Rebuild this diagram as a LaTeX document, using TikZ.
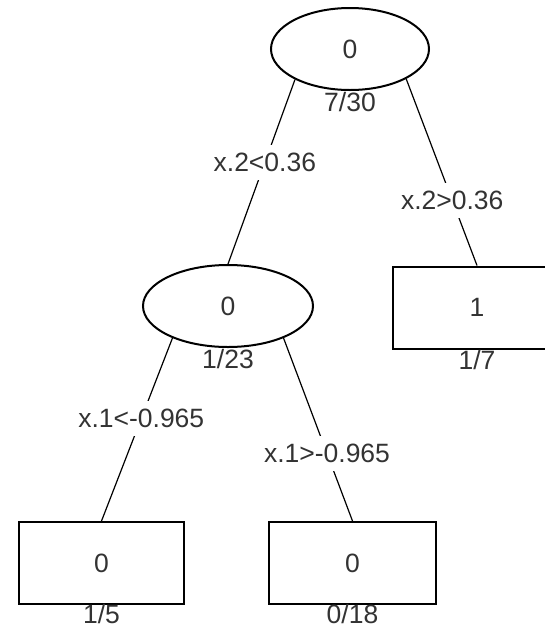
\documentclass[tikz,border=0pt]{standalone}
\usepackage{fontspec}
\setmainfont{Liberation Sans}
\usetikzlibrary{shapes.geometric}
\begin{document}
\begin{tikzpicture}[x=1pt,y=-1pt,
  every node/.style={font=\fontsize{26.5}{30}\selectfont, text=black!80},
  splitnode/.style={ellipse, draw=black, line width=2pt, inner sep=0pt, minimum height=82pt},
  leafnode/.style={rectangle, draw=black, line width=2pt, inner sep=0pt, minimum height=82pt},
  edgeline/.style={draw=black, line width=1.2pt},
  edgelabel/.style={fill=white, inner xsep=1pt, inner ysep=8pt},
  countlabel/.style={anchor=base, inner sep=0pt}]
\useasboundingbox (0,0) rectangle (545,630);
\clip (0,0) rectangle (545,630);
\fill[white] (0,0) rectangle (545,630);
% nodes
\node[splitnode, minimum width=158pt] (root) at (350,49) {0};
\node[splitnode, minimum width=170pt] (mid) at (228,306) {0};
\node[leafnode, minimum width=168pt] (leafR) at (477,307.5) {1};
\node[leafnode, minimum width=165pt] (leafLL) at (101.5,563) {0};
\node[leafnode, minimum width=167pt] (leafLR) at (352.5,563) {0};
% counts
\node[countlabel] (rootcount) at ([yshift=-20pt]root.south) {7/30};
\node[countlabel] (midcount) at ([yshift=-20pt]mid.south) {1/23};
\node[countlabel] (leafRcount) at ([yshift=-20pt]leafR.south) {1/7};
\node[countlabel] (leafLLcount) at ([yshift=-18pt]leafLL.south) {1/5};
\node[countlabel] (leafLRcount) at ([yshift=-18pt]leafLR.south) {0/18};
% edges
\draw[edgeline] (root.209) -- node[edgelabel, pos=0.45] (lab1) {x.2<0.36} (mid.north);
\draw[edgeline] (root.332) -- node[edgelabel, pos=0.65] (lab2) {x.2>0.36} (leafR.north);
\draw[edgeline] (mid.210) -- node[edgelabel, pos=0.44] (lab3) {x.1<-0.965} (leafLL.north);
\draw[edgeline] (mid.330) -- node[edgelabel, pos=0.63] (lab4) {x.1>-0.965} (leafLR.north);
\end{tikzpicture}
\end{document}
